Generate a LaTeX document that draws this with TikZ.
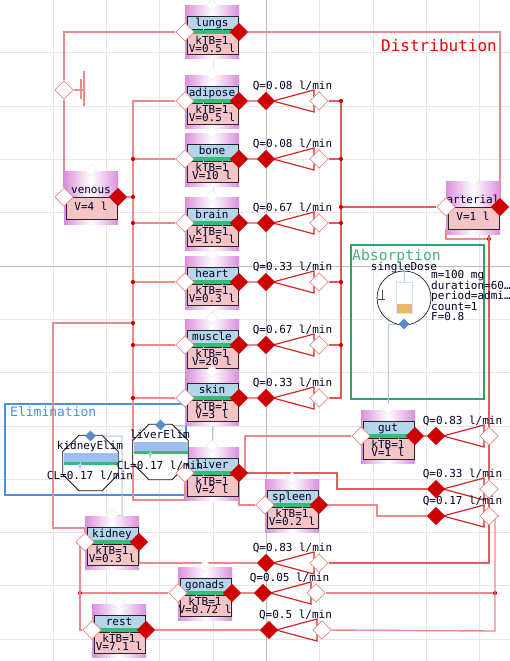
\documentclass[tikz,border=0pt]{standalone}
\usepackage{fontspec}
\setmonofont{DejaVu Sans Mono}
\usetikzlibrary{shapes.geometric, backgrounds}
\definecolor{gridgray}{HTML}{E6E6E6}
\definecolor{axisgray}{HTML}{BDBDBD}
\definecolor{wirepink}{HTML}{EA8A8A}
\definecolor{wirered}{HTML}{E25C5C}
\definecolor{portred}{HTML}{CC0000}
\definecolor{signalblue}{HTML}{A9C9EA}
\definecolor{elimblue}{HTML}{4A90E2}
\definecolor{absgreen}{HTML}{2BA36B}
\definecolor{bandblue}{HTML}{B5D5E8}
\definecolor{bandgreen}{HTML}{33BB77}
\definecolor{bandpink}{HTML}{F5C4C4}
\definecolor{shellviolet}{HTML}{DC8FDC}
\definecolor{doseorange}{HTML}{E8B96A}
\definecolor{tankblue}{HTML}{9BBFEF}
\begin{document}
\begin{tikzpicture}[x=1pt, y=-1pt,
  gridline/.style={gridgray, line width=1pt},
  wire/.style={wirepink, line width=1.4pt},
  flowline/.style={wirered, line width=1.2pt},
  signal/.style={signalblue, line width=1pt},
  txt/.style={font=\ttfamily\fontsize{11}{11}\selectfont, inner sep=0pt, text height=8pt, text depth=2pt, text=black!85!blue},
  shell/.style={minimum width=54pt, minimum height=53pt, inner sep=0pt, left color=shellviolet, right color=shellviolet, middle color=white},
  band/.style={minimum width=51pt, inner sep=0pt, draw=black!85, line width=1pt},
  inport/.style={diamond, draw=wirepink, fill=white, line width=0.8pt, minimum size=18.5pt, inner sep=0pt},
  outport/.style={diamond, fill=portred, minimum size=18.5pt, inner sep=0pt},
  topport/.style={diamond, draw=black!8, fill=white, minimum size=12pt, inner sep=0pt},
  sigport/.style={diamond, fill=elimblue!75!gray, minimum size=11pt, inner sep=0pt},
  dot/.style={circle, fill=portred, minimum size=4.2pt, inner sep=0pt},
  grpbox/.style={draw, line width=1.5pt, inner sep=0pt},
  pump/.style={draw=portred!85!white, line width=1.2pt},
  octa/.style={regular polygon, regular polygon sides=8, draw=black!90, line width=0.8pt, minimum size=60pt, inner sep=0pt, fill=white}
]
\useasboundingbox (0,0) rectangle (510,661);

% Compartments with kTB
\foreach \nm/\cx/\cy/\vol in {lungs/212/32/0.5, adipose/212/101/0.5, bone/212/159/10,
    brain/212/223/1.5, heart/212/282/0.3, muscle/212/345/20, skin/212/398/3,
    liver/212/473/2, gut/388/436/1, spleen/292/505/0.2, kidney/112/542/0.3,
    gonads/205/593/0.72, rest/119/630/7.1} {
  \node[shell] (\nm) at (\cx,\cy+0.5) {};
  \node[band, fill=bandblue, minimum height=13pt] (\nm-blue) at (\cx+0.5,\cy-8.5) {};
  \node[band, fill=bandpink, minimum height=21pt] (\nm-pink) at (\cx+0.5,\cy+12.5) {};
  \draw[wirepink!60, line width=0.5pt] (\cx+10,\cy-5) -- (\cx+10,\cy+7);
  \draw[signalblue!50, line width=0.5pt] (\cx-9,\cy-5) -- (\cx-9,\cy+7);
  \node[minimum width=50pt, minimum height=4pt, inner sep=0pt, fill=bandgreen] (\nm-green) at (\cx+0.5,\cy) {};
  \node[txt] (\nm-label) at (\cx,\cy-8) {\nm};
  \node[txt] (\nm-ktb) at (\cx,\cy+9.5) {kTB=1};
  \node[txt] (\nm-vol) at (\cx,\cy+17.5) {V=\vol{} l};
  \node[topport] (\nm-top) at (\cx,\cy-27) {};
  \node[inport] (\nm-in) at (\cx-27,\cy) {};
  \node[outport] (\nm-out) at (\cx+27,\cy) {};
}

% Blood pools
\foreach \nm/\cx/\cy/\vol in {venous/91/197/4, arterial/473/207/1} {
  \node[shell] (\nm) at (\cx,\cy+0.5) {};
  \node[band, fill=bandpink, minimum height=22pt] (\nm-pink) at (\cx+0.5,\cy+11) {};
  \node[txt] (\nm-label) at (\cx,\cy-7) {\nm};
  \node[txt] (\nm-vol) at (\cx,\cy+10.5) {V=\vol{} l};
  \node[topport] (\nm-top) at (\cx,\cy-27) {};
  \node[inport] (\nm-in) at (\cx-27,\cy) {};
  \node[outport] (\nm-out) at (\cx+27,\cy) {};
}

% Flow elements
\foreach \fl/\rx/\ry/\qv in {adipose/266/101/0.08, bone/266/159/0.08, brain/266/223/0.67,
    heart/266/282/0.33, muscle/266/345/0.67, skin/266/398/0.33, gut/436/436/0.83,
    liverA/436/489/0.33, liverB/436/516/0.17, kidney/266/563/0.83,
    gonads/263/593/0.05, rest/269/630/0.5} {
  \draw[pump] (\rx+7,\ry) -- (\rx+48,\ry-11) -- (\rx+48,\ry+11) -- cycle;
  \node[outport] (\fl Red) at (\rx,\ry) {};
  \node[inport] (\fl White) at (\rx+53,\ry) {};
  \node[txt] (\fl Q) at (\rx+26.5,\ry-15) {Q=\qv{} l/min};
}

% Elimination
\foreach \nm/\cx/\cy in {kidneyElim/90.5/463, liverElim/160.5/452} {
  \node[octa] (\nm) at (\cx,\cy) {};
  \node[minimum width=54pt, minimum height=10pt, inner sep=0pt, fill=tankblue] (\nm-blue) at (\cx,\cy-5.5) {};
  \node[minimum width=54pt, minimum height=3pt, inner sep=0pt, fill=bandgreen] (\nm-green) at (\cx,\cy+0.5) {};
  \draw[-latex, signal] (\cx-10.5,\cy-1) -- (\cx-10.5,\cy+7);
  \node[sigport] (\nm-port) at (\cx,\cy-27) {};
}
\node[inport] (liverfront) at (185,473) {};
\node[txt] (kidneyElim-label) at (90,446.5) {kidneyElim};
\node[txt] (kidneyElim-cl) at (90,476) {CL=0.17 l/min};
\node[txt] (liverElim-label) at (160,435.5) {liverElim};
\node[txt] (liverElim-cl) at (160,466) {CL=0.17 l/min};

% Dose
\node[circle, draw=black!85, line width=0.7pt, fill=white, minimum size=54pt, inner sep=0pt] (singleDose) at (404,298) {};
\node[minimum width=16pt, minimum height=31pt, inner sep=0pt, draw=signalblue!50, line width=1pt] (syringe) at (404.5,297.5) {};
\node[minimum width=15pt, minimum height=9pt, inner sep=0pt, fill=doseorange] (syringe-fill) at (404.5,308.5) {};
\draw[signal] (singleDose.north) -- (syringe.north);
\draw[black!70, line width=0.9pt] (378,299) -- (385,299) (382,290) -- (382,299);
\node[sigport] (singleDose-port) at (404,324) {};
\node[txt] (singleDose-label) at (404,267) {singleDose};
\foreach \t/\ty/\tx in {a/275/m=100 mg, b/286/duration=60…, c/296.5/period=admi…, d/307/count=1, e/317/F=0.8} {
  \node[txt, anchor=west] (dose-\t) at (431,\ty) {\tx};
}

% Group titles
\node[txt, font=\ttfamily\fontsize{16}{16}\selectfont, text=red!90!black, anchor=east] (title-dist) at (497,48.5) {Distribution};
\node[txt, font=\ttfamily\fontsize{14.7}{15}\selectfont, text=absgreen!85!white, anchor=west] (title-abs) at (352,257) {Absorption};
\node[txt, font=\ttfamily\fontsize{13}{13}\selectfont, text=elimblue, anchor=west] (title-elim) at (10,413.5) {Elimination};

% Everything behind the blocks
\begin{scope}[on background layer]
\fill[white] (0,0) rectangle (510,661);
\foreach \gx in {53,106,159,213,319,373,426,479} {
  \draw[gridline] (\gx,0) -- (\gx,661);
}
\foreach \gy in {53,106,159,212,319,372,426,479,532,585,639} {
  \draw[gridline] (0,\gy) -- (510,\gy);
}
\draw[axisgray, line width=1pt] (266,0) -- (266,661);
\draw[axisgray, line width=1pt] (0,266) -- (510,266);

\node[grpbox, draw=elimblue, minimum width=181pt, minimum height=91pt] (elimination) at (95.5,449.5) {};
\node[grpbox, draw=absgreen, minimum width=133pt, minimum height=154pt] (absorption) at (417.5,322) {};

% Venous return and lungs
\coordinate (cornerTL) at (64,32);
\coordinate (cornerTR) at (500,32);
\node[inport] (capPort) at (64,90) {};
\draw[wire] (lungs-out) -- (cornerTR) -- (arterial-out);
\draw[wire] (lungs-in) -- (cornerTL) -- (capPort) -- (venous-in);
\draw[wire] (capPort) -- (84,90);
\draw[wire] (81,79) -- (81,99);
\draw[wire] (84,71) -- (84,106);

% Left bus
\coordinate (busTL) at (133,101);
\coordinate (busBL) at (133,500);
\coordinate (liverJ) at (185,500);
\draw[wire] (adipose-in) -- (busTL) -- (busBL) -- (liverJ) -- (liver-in);
\foreach \j/\jy in {a/159,b/197,c/223,d/282,e/323,f/345,g/398} {
  \node[dot] (busL\j) at (133,\jy) {};
}
\draw[wire] (busLa) -- (bone-in);
\draw[wire] (busLb) -- (venous-out);
\draw[wire] (busLc) -- (brain-in);
\draw[wire] (busLd) -- (heart-in);
\draw[wire] (busLf) -- (muscle-in);
\draw[wire] (busLg) -- (skin-in);
\coordinate (kidTop) at (53,323);
\coordinate (kidLow) at (53,528);
\coordinate (kidEnd) at (85,528);
\draw[wire] (busLe) -- (kidTop) -- (kidLow) -- (kidEnd) -- (kidney-in);
\node[dot] (kidneyJ) at (80,542.5) {};
\node[dot] (gonadsJ) at (80,593) {};
\coordinate (restC) at (80,630);
\draw[wire] (kidneyJ) -- (kidney-in);
\draw[wire] (kidneyJ) -- (restC) -- (rest-in);
\draw[wire] (gonadsJ) -- (gonads-in);

% Right bus
\coordinate (busTR) at (341,101);
\coordinate (busBR) at (341,398);
\draw[flowline] (adiposeWhite) -- (busTR) -- (busBR) -- (skinWhite);
\foreach \j/\jy in {a/101,b/159,c/207,d/223,e/282,f/345} {
  \node[dot] (busR\j) at (341,\jy) {};
}
\draw[flowline] (busRb) -- (boneWhite);
\draw[flowline] (busRc) -- (arterial-in);
\draw[flowline] (busRd) -- (brainWhite);
\draw[flowline] (busRe) -- (heartWhite);
\draw[flowline] (busRf) -- (muscleWhite);

% Organ outlets
\foreach \fl in {adipose,bone,brain,heart,muscle,skin,gut,gonads,rest} {
  \draw[wire] (\fl-out) -- (\fl Red);
}
\coordinate (kidOut) at (139,563);
\draw[wire] (kidney-out) -- (kidOut) -- (kidneyRed);

% Portal veins
\coordinate (gutA) at (245,473);
\coordinate (gutB) at (245,436);
\draw[wire] (liver-out) -- (gutA) -- (gutB) -- (gut-in);
\coordinate (liverX) at (337,473);
\coordinate (liverY) at (337,489);
\draw[flowline] (liver-out) -- (liverX) -- (liverY) -- (liverARed);
\coordinate (splA) at (239,505);
\draw[wire] (liver-out) -- (splA) -- (spleen-in);
\coordinate (splX) at (377,505);
\coordinate (splY) at (377,516);
\draw[wire] (spleen-out) -- (splX) -- (splY) -- (liverBRed);

% Arterial feed
\node[dot] (artA) at (448,229) {};
\node[dot] (artB) at (489,229) {};
\node[dot] (artC) at (489,239) {};
\coordinate (artD) at (446,239);
\coordinate (artE) at (446,229);
\coordinate (feedLow) at (489,563);
\draw[wire] (artE) -- (artD) -- (artC);
\draw[flowline] (artA) -- (artB);
\draw[flowline] (artB) -- (feedLow) -- (kidneyWhite);
\node[dot] (feedA) at (495,516) {};
\node[dot] (feedB) at (495,593) {};
\coordinate (feedC) at (495,631);
\draw[wire] (feedA) -- (liverBWhite);
\draw[wire] (gonadsWhite) -- (feedB);
\draw[wire] (feedA) -- (feedC) -- (restWhite);

% Signal lines
\coordinate (sigA) at (122,436);
\coordinate (sigB) at (122,516);
\draw[signal] (kidneyElim-port) -- (sigA) -- (sigB) -- (kidney-top);
\coordinate (sigC) at (212,425);
\draw[signal] (liverElim-port) -- (sigC) -- (liver-top);
\coordinate (sigD) at (388,324);
\draw[signal] (singleDose-port) -- (sigD) -- (gut-top);
\end{scope}
\end{tikzpicture}
\end{document}
